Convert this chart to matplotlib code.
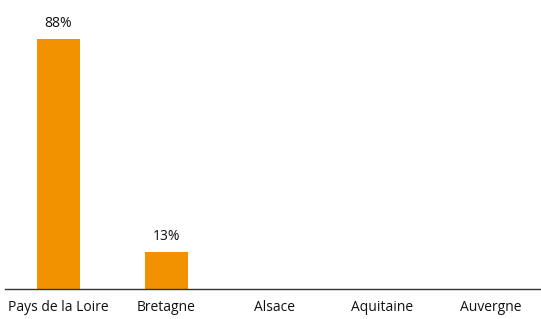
import matplotlib
matplotlib.use("Agg")
import matplotlib.pyplot as plt

regions = ["Pays de la Loire", "Bretagne", "Alsace", "Aquitaine", "Auvergne"]
values = [88, 13, 0, 0, 0]
labels = ["88%", "13%", "", "", ""]

plt.rcParams['font.family'] = ['Open Sans', 'DejaVu Sans']

fig = plt.figure(figsize=(5.41, 3.19), dpi=100)
ax = fig.add_axes([4.5 / 541, 30 / 319, 536.5 / 541, 284 / 319])

x = range(len(regions))
bars = ax.bar(x, values, width=0.4, color="#F39200")
for b, lab in zip(bars, labels):
    if lab:
        ax.text(b.get_x() + b.get_width() / 2, b.get_height() + 2.8, lab,
                ha="center", va="bottom", fontsize=10, color="#111111")

ax.set_xlim(-0.5, 4.468)
ax.set_ylim(0, 100)
ax.set_xticks(list(x))
ax.set_xticklabels(regions, fontsize=10, color="#111111")
ax.tick_params(axis="x", length=0, pad=8)
ax.set_yticks([])
for side in ["top", "right", "left"]:
    ax.spines[side].set_visible(False)
ax.spines["bottom"].set_color("#333333")
ax.spines["bottom"].set_linewidth(1)

fig.savefig("out.png", dpi=100)
